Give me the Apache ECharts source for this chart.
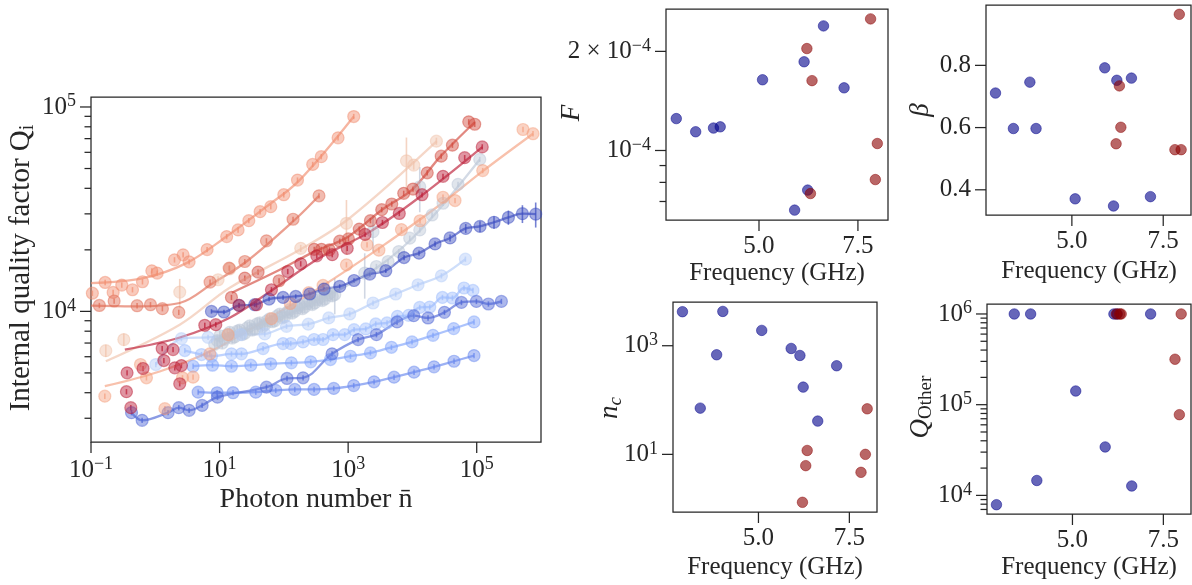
<!DOCTYPE html>
<html>
<head>
<meta charset="utf-8">
<script src="https://cdn.jsdelivr.net/npm/echarts@6.0.0/dist/echarts.min.js"></script>
<style>
html,body{margin:0;padding:0;background:#ffffff;}
#chart{width:1192px;height:585px;}
</style>
</head>
<body>
<div id="chart"></div>
<script>
// ---------------- main panel data (photon number n, internal Q) ----------------
const A_pts = [[0.105,12270],[0.166,13850],[0.221,12380],[0.301,13450],[0.442,12760],[0.632,13960],[0.883,15790],[1.07,15390],[1.99,17870],[2.71,18900],[3.36,17480],[6.40,20060],[12.9,23220],[19.4,25030],[28.5,27790],[42.7,30740],[62.6,32530],[99.8,37220],[163,43890],[281,52360],[382,57150],[697,70620],[1222,89800]];
const A_fit = [[0.1,13760],[0.645,14550],[3.05,17220],[12.8,23240],[53.6,32530],[176,43880],[1222,89800]];

const B_pts = [[0.135,10690],[0.229,11240],[0.521,10660],[0.842,10780],[1.29,10310],[2.32,9890],[7.11,13910],[14.1,16280],[24.7,17540],[53.6,22130],[139,28230],[352,36770]];
const B_fit = [[0.1,10660],[0.452,10570],[2.40,10990],[7.93,13760],[26.2,17540],[157,28550],[352,36770]];

const R15_pts = [[15.3,11700],[24.7,14550],[39.7,15570],[84.2,14120],[297,20110],[385,20110],[510,20000],[740,22050],[1011,22620],[1489,25260],[2222,27790],[3330,31450],[4770,33530],[7320,37810],[10210,39680],[17000,47640],[28050,57470],[41900,65030],[75100,84600],[93100,82330]];
const R15_fit = [[15.5,12340],[86.4,15970],[292,19550],[986,23140],[3330,31340],[10120,39680],[27540,57470],[93100,84230]];

const S16_pts = [[0.356,4046],[0.364,5005],[0.416,3380],[0.645,5254],[1.28,6580],[1.36,5748],[1.89,6500],[2.01,5295],[2.40,4426],[2.55,5432],[5.89,8550],[8.73,8610],[20.1,10700],[37.5,10780],[64.1,12760],[115,15670],[183,17090],[325,18700],[566,18950],[968,20340],[1832,23800],[3415,27220],[6250,30130],[14100,37220],[29900,45770],[65000,56500],[121900,63800]];
const S16_fit = [[0.336,6500],[2.40,7450],[14.4,9310],[60.4,12480],[362,18280],[2168,24490],[13000,36260],[121900,63550]];

const S13_pts = [[0.164,3847],[0.589,5496],[0.729,4733],[1.41,3342],[2.65,4733],[3.87,4766],[7.04,6194],[13.6,7696],[64.1,9213],[126,10930],[244,12340],[407,13390],[941,16900],[1968,21150],[3010,19930],[6740,25120],[13130,27760],[29900,36180],[46000,34860],[124000,48850],[525000,77600],[751000,74000]];
const S13_fit = [[0.164,4306],[1.17,5082],[7.04,6360],[60.4,9320],[362,13050],[3100,20450],[26600,33160],[124000,48570],[751000,74000]];

const P1_pts = [[0.170,6425],[0.324,7280],[2.40,12430],[9.48,14280],[14.4,16150],[183,20340],[941,26980],[8070,54520],[10480,51950],[23600,68020]];
const P1_fit = [[0.170,5703],[2.40,8610],[14.4,13050],[177,20000],[1059,28640],[23900,68020]];
const P1_err = [0.07,0.07,0.16,0.04,0.04,0.04,0.30,0.30,0.05,0.04];

const S7_pts = [[8.4,6900],[10.1,7600],[12,7300],[14.4,7900],[17.2,7500],[20.6,8100],[24.6,7800],[29.5,8500],[35.3,8200],[42.2,8800],[50.5,8600],[60.4,9200],[72.2,9000],[86.4,9700],[103,9400],[124,10200],[148,10000],[177,10700],[211,10500],[253,11200],[303,11000],[362,11700],[433,11500],[518,12300],[619,12100],[1811,15390],[2754,16580],[4178,17540],[6125,19620],[9083,22810],[13000,25030],[20200,29630],[29950,33800],[51200,41830],[111400,55380]];
const S7_fit = [[8.4,7300],[50,8700],[300,11100],[2754,16300],[13000,24800],[111400,55380]];
const S8_pts = [[9.2,7200],[11,7000],[13.2,7700],[15.7,7400],[18.8,8000],[22.5,7700],[26.9,8300],[32.2,8100],[38.6,8700],[46.1,8400],[55.2,9000],[66,8900],[79,9500],[94.5,9300],[113,9900],[135,9800],[162,10400],[194,10300],[232,10900],[277,10800],[331,11400],[396,11300],[474,12000],[566,11900],[2438,24550],[13000,40720]];
const S8_err = [0.06,0.06,0.06,0.06,0.06,0.06,0.06,0.06,0.06,0.06,0.06,0.06,0.06,0.06,0.06,0.06,0.06,0.06,0.06,0.06,0.06,0.06,0.06,0.06,0.2,0.25];

const S1_pts = [[7.48,10000],[11.7,9930],[20.1,10700],[35.2,10780],[58.9,11490],[97.2,11700],[153,11830],[253,12160],[422,12860],[740,13250],[1235,14160],[2170,15220],[3850,15810],[7400,18340],[12670,19270],[22480,21380],[38470,22880],[67500,25470],[112500,26040],[185800,27300],[311000,28810],[514000,30060],[827000,29900]];
const S1_err = [0.025,0.025,0.025,0.025,0.025,0.025,0.025,0.025,0.025,0.025,0.025,0.025,0.025,0.03,0.03,0.03,0.04,0.05,0.06,0.07,0.08,0.10,0.14];

const S2_pts = [[0.427,3195],[0.624,2930],[1.58,3195],[2.32,3380],[3.36,3280],[5.35,3467],[9.27,3806],[53.6,4258],[112,4697],[199,4732],[562,6197],[1427,7278],[2756,7696],[5768,8878],[10480,9530],[17490,9285],[31480,9890],[57840,11060],[98900,11190],[152000,10870],[242000,11190]];
const S4_pts = [[4.64,4026],[9.15,3999],[16.2,4000],[36.6,4026],[74.8,4104],[148,4150],[295,4150],[597,4198],[1222,4336],[2529,4524],[5176,4764],[10590,5040],[21680,5355],[44360,5703],[90800,6080]];
const S3_pts = [[3.87,5391],[7.76,5453],[15.3,5391],[30.6,5453],[62.5,5538],[131,5601],[262,5665],[531,5813],[1086,6034],[2222,6266],[4713,6674],[9860,7090],[20900,7636],[43850,8235],[90800,8880]];
const S5_pts = [[2.88,6432],[5.23,6150],[7.49,6034],[15.3,6197],[21.9,6197],[47.5,6577],[97.2,6958],[128,6958],[199,7090],[295,7285],[407,7285],[582,7696],[885,7696],[1236,8141],[1879,8206],[2687,8680],[4027,8778],[5845,9454],[8757,9562],[13000,10460],[18600,10500],[29300,11700],[41900,11630],[63400,13010],[87500,12660]];
const S6_pts = [[1.02,5495],[2.55,7357],[6.62,7467],[21.4,7696],[50.5,7758],[110,8450],[240,8662],[499,9286],[1059,9713],[2438,10990],[5496,12160],[12220,13500],[28250,14930],[66700,18010]];

// ---------------- side panels (frequency in GHz) ----------------
const freqBlue = [2.91, 3.40, 3.85, 4.02, 5.09, 5.90, 6.14, 6.23, 6.63, 7.15];
const freqRed  = [6.21, 6.30, 6.34, 7.82, 7.94, 7.99];
const F_blue = [1.25e-4, 1.14e-4, 1.17e-4, 1.18e-4, 1.64e-4, 6.59e-5, 1.86e-4, 7.58e-5, 2.39e-4, 1.55e-4];
const F_red  = [2.04e-4, 7.40e-5, 1.63e-4, 2.51e-4, 8.16e-5, 1.05e-4];
const beta_blue = [0.711, 0.597, 0.746, 0.597, 0.371, 0.792, 0.348, 0.752, 0.759, 0.378];
const beta_red  = [0.548, 0.734, 0.601, 0.529, 0.964, 0.529];
const nc_blue = [4230, 71, 682, 4280, 1915, 891, 662, 173, 41, 428];
const nc_red  = [1.31, 6.2, 11.8, 4.67, 10, 69];
const Qo_blue = [7900, 1e6, 1e6, 14600, 141500, 34200, 1e6, 1e6, 12700, 1e6];
const Qo_red  = [1e6, 1e6, 1e6, 317000, 77600, 1e6];

// ---------------- tick values and labels ----------------
const mainXTicks = [0.1, 10, 1000, 100000];
const mainXLabels = ['10^{−1}', '10^{1}', '10^{3}', '10^{5}'];
const mainYTicks = [10000, 100000];
const mainYLabels = ['10^{4}', '10^{5}'];
const mainYMinor = [3000,4000,5000,6000,7000,8000,9000,20000,30000,40000,50000,60000,70000,80000,90000];
const freqTicks = [5.0, 7.5];
const freqLabels = ['5.0', '7.5'];
const F_ticks = [1e-4, 2e-4];
const F_labels = ['10^{−4}', '2 × 10^{−4}'];
const F_minor = [7e-5, 8e-5, 9e-5];
const beta_ticks = [0.4, 0.6, 0.8];
const beta_labels = ['0.4', '0.6', '0.8'];
const nc_ticks = [10, 1000];
const nc_labels = ['10^{1}', '10^{3}'];
const Qo_ticks = [1e4, 1e5, 1e6];
const Qo_labels = ['10^{4}', '10^{5}', '10^{6}'];
const Qo_minor = [7000,8000,9000,20000,30000,40000,50000,60000,70000,80000,90000,200000,300000,400000,500000,600000,700000,800000,900000];

// ---------------- styling ----------------
const FONT = 'Liberation Serif';
const INK = '#262626';
const TICK_FS = 25;

function rgba(hex, a) {
  const n = parseInt(hex.slice(1), 16);
  return 'rgba(' + ((n >> 16) & 255) + ',' + ((n >> 8) & 255) + ',' + (n & 255) + ',' + a + ')';
}
function richLabel(s) {
  const m = s.match(/^(.*)\^\{(.*)\}$/);
  return m ? '{b|' + m[1] + '}{s|' + m[2] + '}' : '{b|' + s + '}';
}
function richStyles(fs) {
  const sfs = Math.round(fs * 0.7);
  return {
    b: {fontSize: fs, fontFamily: FONT, fill: INK, lineHeight: fs + 4},
    s: {fontSize: sfs, fontFamily: FONT, fill: INK, lineHeight: sfs + 2, verticalAlign: 'top'}
  };
}
function decor(gi, dir, majors, labels, minors, anchor, labOff) {
  const data = [];
  majors.forEach((v, i) => data.push(dir === 'y' ? [anchor, v, 1, i] : [v, anchor, 1, i]));
  (minors || []).forEach(v => data.push(dir === 'y' ? [anchor, v, 0, -1] : [v, anchor, 0, -1]));
  return {
    type: 'custom', xAxisIndex: gi, yAxisIndex: gi, data: data, silent: true, z: 20,
    encode: {x: 0, y: 1},
    renderItem: function (params, api) {
      const p = api.coord([api.value(0), api.value(1)]);
      const major = api.value(2) === 1;
      const L = major ? 11 : 6.5;
      const ch = [];
      if (dir === 'y') {
        ch.push({type: 'line', shape: {x1: p[0] - L, y1: p[1], x2: p[0], y2: p[1]}, style: {stroke: INK, lineWidth: 1.25}});
      } else {
        ch.push({type: 'line', shape: {x1: p[0], y1: p[1], x2: p[0], y2: p[1] + L}, style: {stroke: INK, lineWidth: 1.25}});
      }
      if (major) {
        ch.push({
          type: 'text',
          x: dir === 'y' ? p[0] - L - 4 : p[0],
          y: dir === 'y' ? p[1] : p[1] + labOff,
          style: {
            text: richLabel(labels[api.value(3)]), rich: richStyles(TICK_FS),
            fill: INK, fontFamily: FONT, fontSize: TICK_FS,
            align: dir === 'y' ? 'right' : 'center', verticalAlign: 'middle'
          }
        });
      }
      return {type: 'group', children: ch};
    }
  };
}

const MAIN = [
  {pts: P1_pts, fit: P1_fit, err: P1_err, c: '#f0c2aa'},
  {pts: S8_pts, err: S8_err, noLine: true, c: '#bcc6d7'},
  {pts: S7_pts, fit: S7_fit, err: S8_err, c: '#bcc6d7'},
  {pts: S6_pts, c: '#b4ccf8'},
  {pts: S5_pts, c: '#9dbcfd'},
  {pts: S3_pts, c: '#80a3fa'},
  {pts: S4_pts, c: '#6787ee'},
  {pts: S2_pts, c: '#4d65d6'},
  {pts: S13_pts, fit: S13_fit, c: '#f5a080'},
  {pts: A_pts, fit: A_fit, c: '#f18d6f'},
  {pts: B_pts, fit: B_fit, c: '#e06b54'},
  {pts: R15_pts, fit: R15_fit, c: '#d2493d'},
  {pts: S1_pts, err: S1_err, c: '#3b4cc0'},
  {pts: S16_pts, fit: S16_fit, c: '#bb1b35'}
];

const series = [];
MAIN.forEach(function (s) {
  if (!s.noLine) {
    series.push({
      type: 'line', xAxisIndex: 0, yAxisIndex: 0, data: s.fit || s.pts, smooth: 0.35,
      showSymbol: false, silent: true, lineStyle: {color: rgba(s.c, 0.65), width: 2.3}, z: 2
    });
  }
  const ed = s.pts.map((p, i) => [p[0], p[1], s.err ? (s.err[i] || 0.03) : 0.03]);
  series.push({
    type: 'custom', xAxisIndex: 0, yAxisIndex: 0, data: ed, silent: true, z: 2, encode: {x: 0, y: 1},
    renderItem: function (params, api) {
      const x = api.value(0), y = api.value(1), e = api.value(2);
      const a = api.coord([x, y * (1 - e)]), b = api.coord([x, y * (1 + e)]);
      return {type: 'line', shape: {x1: a[0], y1: a[1], x2: b[0], y2: b[1]}, style: {stroke: rgba(s.c, 0.7), lineWidth: 1.6}};
    }
  });
  series.push({
    type: 'scatter', xAxisIndex: 0, yAxisIndex: 0, data: s.pts, symbolSize: 12, silent: true, z: 2,
    itemStyle: {color: rgba(s.c, 0.58), borderColor: rgba(s.c, 0.6), borderWidth: 1.2}
  });
});

const BLUE = 'rgba(0,0,139,0.75)', RED = 'rgba(139,0,0,0.75)';
[[1, F_blue, F_red], [2, beta_blue, beta_red], [3, nc_blue, nc_red], [4, Qo_blue, Qo_red]].forEach(function (d) {
  series.push({type: 'scatter', xAxisIndex: d[0], yAxisIndex: d[0], data: freqBlue.map((f, i) => [f, d[1][i]]),
    symbolSize: 10.5, silent: true, itemStyle: {color: BLUE, borderColor: BLUE, borderWidth: 0.8}});
  series.push({type: 'scatter', xAxisIndex: d[0], yAxisIndex: d[0], data: freqRed.map((f, i) => [f, d[2][i]]),
    symbolSize: 10.5, silent: true, itemStyle: {color: RED, borderColor: RED, borderWidth: 0.8}});
});

// ticks + tick labels
series.push(decor(0, 'x', mainXTicks, mainXLabels, null, 2296, 28));
series.push(decor(0, 'y', mainYTicks, mainYLabels, mainYMinor, 0.1, 0));
[1, 2, 3, 4].forEach(gi => series.push(decor(gi, 'x', freqTicks, freqLabels, null, gi === 1 ? 6.15e-5 : gi === 2 ? 0.319 : gi === 3 ? 0.869 : 6237, 26)));
series.push(decor(1, 'y', F_ticks, F_labels, F_minor, 2.65, 0));
series.push(decor(2, 'y', beta_ticks, beta_labels, null, 2.65, 0));
series.push(decor(3, 'y', nc_ticks, nc_labels, null, 2.65, 0));
series.push(decor(4, 'y', Qo_ticks, Qo_labels, Qo_minor, 2.65, 0));

const GRIDS = [[91, 97, 450, 345], [666, 9, 222, 211], [986, 5, 205, 210], [673, 302, 204, 210], [987, 304, 204, 210]];
const option = {
  animation: false,
  backgroundColor: '#ffffff',
  grid: GRIDS.map(g => ({left: g[0], top: g[1], width: g[2], height: g[3], show: true, borderColor: INK, borderWidth: 1.25, backgroundColor: 'transparent'})),
  xAxis: [
    {gridIndex: 0, type: 'log', logBase: 10, min: 0.1, max: 1e6, show: false},
    {gridIndex: 1, type: 'value', min: 2.65, max: 8.26, show: false},
    {gridIndex: 2, type: 'value', min: 2.65, max: 8.26, show: false},
    {gridIndex: 3, type: 'value', min: 2.65, max: 8.26, show: false},
    {gridIndex: 4, type: 'value', min: 2.65, max: 8.26, show: false}
  ],
  yAxis: [
    {gridIndex: 0, type: 'log', logBase: 10, min: 2296, max: 111900, show: false},
    {gridIndex: 1, type: 'log', logBase: 10, min: 6.15e-5, max: 2.69e-4, show: false},
    {gridIndex: 2, type: 'value', min: 0.319, max: 0.994, show: false},
    {gridIndex: 3, type: 'log', logBase: 10, min: 0.869, max: 6383, show: false},
    {gridIndex: 4, type: 'log', logBase: 10, min: 6237, max: 1.288e6, show: false}
  ],
  series: series,
  graphic: [
    {type: 'text', x: 316, y: 500, silent: true, style: {text: 'Photon number n\u0304', fontFamily: FONT, fontSize: 28, fill: INK, align: 'center', verticalAlign: 'middle'}},
    {type: 'text', x: 21, y: 268, rotation: Math.PI / 2, silent: true, style: {
      text: '{a|Internal quality factor Q}{i|i}', align: 'center', verticalAlign: 'middle', fill: INK,
      rich: {a: {fontSize: 29, fontFamily: FONT, fill: INK, lineHeight: 33}, i: {fontSize: 20, fontFamily: FONT, fill: INK, lineHeight: 21, verticalAlign: 'bottom'}}}},
    {type: 'text', x: 777, y: 273, silent: true, style: {text: 'Frequency (GHz)', fontFamily: FONT, fontSize: 25, fill: INK, align: 'center', verticalAlign: 'middle'}},
    {type: 'text', x: 1089, y: 271, silent: true, style: {text: 'Frequency (GHz)', fontFamily: FONT, fontSize: 25, fill: INK, align: 'center', verticalAlign: 'middle'}},
    {type: 'text', x: 775, y: 567, silent: true, style: {text: 'Frequency (GHz)', fontFamily: FONT, fontSize: 25, fill: INK, align: 'center', verticalAlign: 'middle'}},
    {type: 'text', x: 1089, y: 567, silent: true, style: {text: 'Frequency (GHz)', fontFamily: FONT, fontSize: 25, fill: INK, align: 'center', verticalAlign: 'middle'}},
    {type: 'text', x: 572, y: 113, rotation: Math.PI / 2, silent: true, style: {text: 'F', fontFamily: FONT, fontStyle: 'italic', fontSize: 27, fill: INK, align: 'center', verticalAlign: 'middle'}},
    {type: 'text', x: 921, y: 110, rotation: Math.PI / 2, silent: true, style: {text: 'β', fontFamily: FONT, fontStyle: 'italic', fontSize: 27, fill: INK, align: 'center', verticalAlign: 'middle'}},
    {type: 'text', x: 610, y: 408, rotation: Math.PI / 2, silent: true, style: {
      text: '{n|n}{c|c}', align: 'center', verticalAlign: 'middle', fill: INK,
      rich: {n: {fontSize: 27, fontFamily: FONT, fontStyle: 'italic', fill: INK, lineHeight: 30}, c: {fontSize: 19, fontFamily: FONT, fontStyle: 'italic', fill: INK, lineHeight: 19, verticalAlign: 'bottom'}}}},
    {type: 'text', x: 921, y: 407, rotation: Math.PI / 2, silent: true, style: {
      text: '{q|Q}{o|Other}', align: 'center', verticalAlign: 'middle', fill: INK,
      rich: {q: {fontSize: 27, fontFamily: FONT, fontStyle: 'italic', fill: INK, lineHeight: 30}, o: {fontSize: 19, fontFamily: FONT, fill: INK, lineHeight: 19, verticalAlign: 'bottom'}}}}
  ]
};
const chart = echarts.init(document.getElementById('chart'), null, {renderer: 'canvas'});
chart.setOption(option);
</script>
</body>
</html>
